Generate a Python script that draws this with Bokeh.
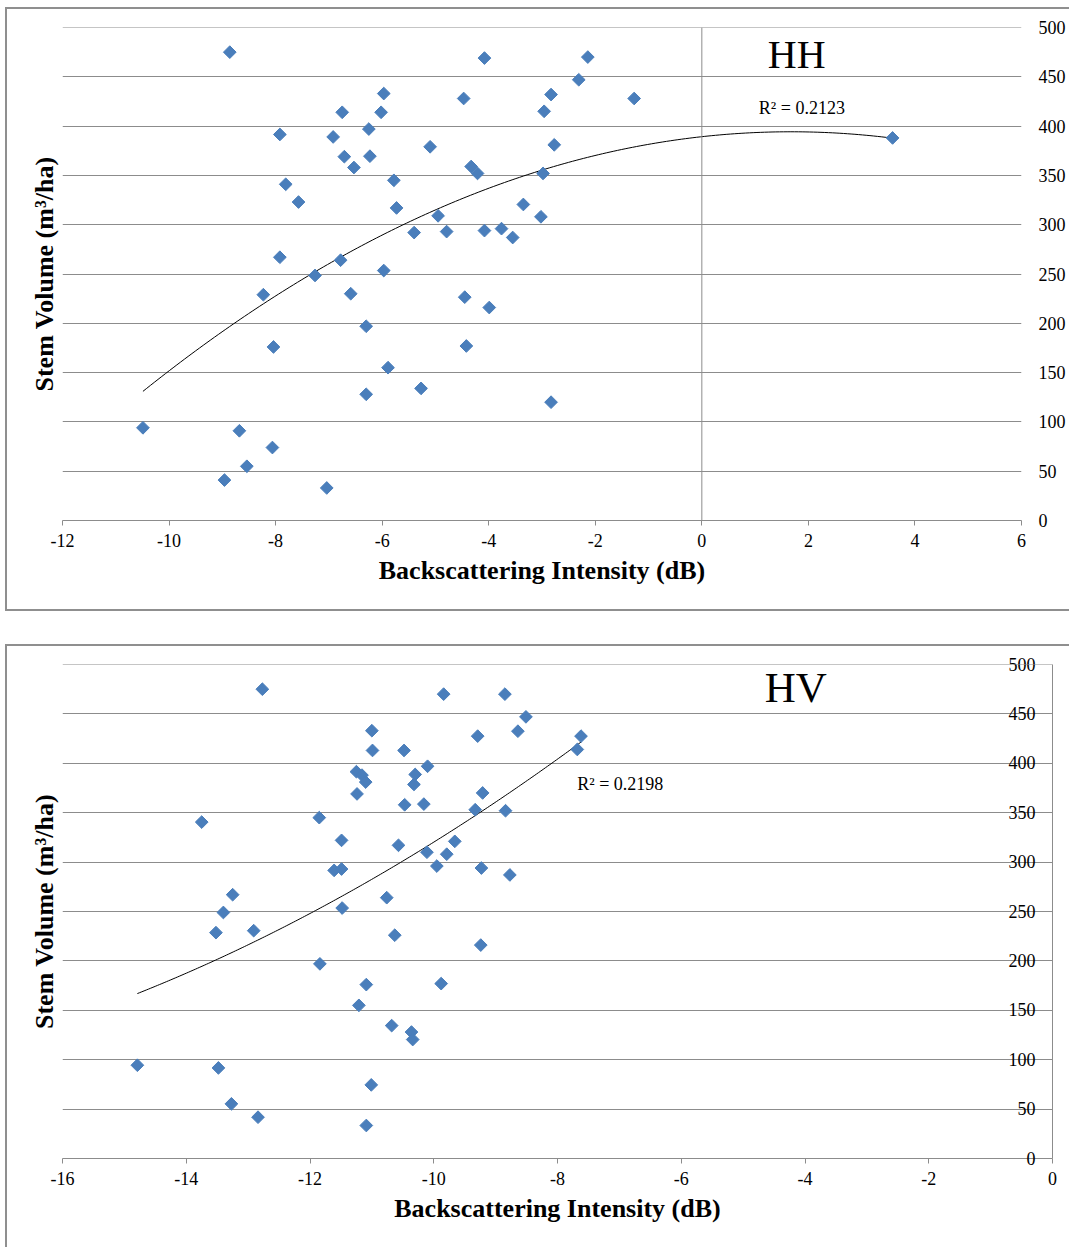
import numpy as np
from bokeh.plotting import figure
from bokeh.models import Range1d, FixedTicker, LinearAxis, Span, Label
from bokeh.layouts import column
from bokeh.embed import file_html
from bokeh.resources import INLINE

# ---------------- data ----------------
hh_x = [-8.86, -4.08, -4.47, -5.97, -6.75, -6.02, -7.92, -6.92, -6.25, -5.10,
        -6.71, -6.23, -6.53, -4.33, -4.21, -5.78, -7.81, -7.57, -5.73, -3.35,
        -4.95, -5.40, -4.79, -4.08, -3.76, -3.55, -7.92, -6.78, -7.26, -5.97,
        -8.23, -6.59, -4.45, -3.99, -2.14, -2.31, -1.27, -2.83, -2.96, -2.77,
        3.58, -2.98, -3.02, -6.30, -8.04, -4.42, -5.89, -5.27, -6.30, -10.49,
        -8.68, -8.06, -8.54, -8.96, -7.04, -2.83]
hh_vol = [475, 469, 428, 433, 414, 414, 391.5, 389, 397, 379,
          369, 369.5, 358, 359, 352, 345, 341, 323, 317, 320.5,
          309, 292, 293, 294, 296, 287, 267, 264, 248.5, 253.5,
          229, 230, 226.5, 216, 470, 447, 428, 432, 415, 381,
          388, 352, 308, 197, 176, 177, 155, 134, 128, 94,
          91, 74, 55, 41, 33, 120]

hv_x = [-12.77, -9.84, -8.85, -8.51, -8.64, -9.29, -11.00, -10.99, -10.48, -10.10,
        -11.25, -11.16, -11.10, -10.30, -10.32, -11.24, -9.21, -10.47, -10.16, -9.33,
        -8.84, -13.75, -11.85, -11.49, -9.66, -10.57, -10.11, -9.79, -9.95, -9.23,
        -8.77, -11.61, -11.49, -13.25, -13.40, -11.48, -10.76, -13.52, -12.91, -10.63,
        -9.24, -7.62, -7.68, -11.84, -11.09, -9.88, -11.21, -10.68, -10.36, -10.34,
        -14.79, -13.48, -11.01, -13.27, -12.84, -11.09]
hv_vol = [475, 470, 470, 447, 432.5, 427.5, 433, 413, 413, 397,
          391.5, 388, 381, 388.7, 378.6, 369, 370, 358, 358.7, 353,
          352, 340.5, 345, 322, 321, 317, 310, 308, 296, 294,
          287, 291.6, 293, 267, 249, 253.5, 264, 228.6, 230.6, 226,
          216, 427.5, 414, 197, 176, 177, 155, 134.5, 128, 120.4,
          94.4, 91.7, 74.5, 55.3, 41.8, 33.4]

vol_ticks = [0, 50, 100, 150, 200, 250, 300, 350, 400, 450, 500]
hh_xticks = [-12, -10, -8, -6, -4, -2, 0, 2, 4, 6]
hv_xticks = [-16, -14, -12, -10, -8, -6, -4, -2, 0]
hh_name = "HH"
hv_name = "HV"
hh_r2 = "R\u00b2 = 0.2123"
hv_r2 = "R\u00b2 = 0.2198"
x_title = "Backscattering Intensity (dB)"
y_title = "Stem Volume (m\u00b3/ha)"

FONT = "Liberation Serif"
GRID = "#8c8c8c"
BLUE = "#4a7ebb"
BCOL = "2px solid #8f8f8f"
FIGSP = "\u2007"  # figure space: same width as a digit, keeps labels right-aligned


def make_panel(xs, ys, x0, x1, xticks, name, name_pos, name_size, r2, r2_pos,
               inside_labels, W, H, fw, fh, bottom_border):
    p = figure(width=W, height=H, frame_width=fw, frame_height=fh,
               output_backend="svg", toolbar_location=None,
               x_range=Range1d(x0, x1), y_range=Range1d(0, 500),
               y_axis_location=None, min_border_left=55, min_border_right=W - 55 - fw,
               min_border_top=18, min_border_bottom=H - 18 - fh)
    p.outline_line_color = None
    p.background_fill_color = "white"
    p.border_fill_color = "white"

    # x axis
    xa = p.xaxis[0]
    xa.ticker = FixedTicker(ticks=xticks)
    xa.major_label_overrides = {t: str(t) for t in xticks}
    xa.axis_line_color = GRID
    xa.major_tick_line_color = GRID
    xa.major_tick_out = 5
    xa.major_tick_in = 0
    xa.minor_tick_line_color = None
    xa.major_label_standoff = 8
    xa.major_label_text_font = FONT
    xa.major_label_text_font_size = "18px"
    xa.major_label_text_color = "black"
    xa.axis_label = x_title
    xa.axis_label_text_font = FONT
    xa.axis_label_text_font_style = "bold"
    xa.axis_label_text_font_size = "26px"
    xa.axis_label_text_color = "black"
    xa.axis_label_standoff = 6

    # left axis carrying only the title
    la = LinearAxis(ticker=FixedTicker(ticks=[]), axis_label=y_title,
                    axis_line_color=None, major_tick_out=0, major_tick_in=0,
                    minor_tick_out=0, minor_tick_in=0,
                    axis_label_standoff=4, axis_label_text_font=FONT,
                    axis_label_text_font_style="bold", axis_label_text_font_size="26px",
                    axis_label_text_color="black")
    p.add_layout(la, "left")

    # grid
    p.xgrid.visible = False
    p.ygrid.ticker = FixedTicker(ticks=vol_ticks)
    p.ygrid.grid_line_color = GRID
    p.ygrid.grid_line_width = 1
    p.add_layout(Span(location=vol_ticks[-1], dimension="width", line_color=GRID, line_width=1))

    if inside_labels:
        # vertical axis sits at x = 0 (right edge) with its labels on the inner side
        width = max(len(str(t)) for t in vol_ticks)
        ra = LinearAxis(ticker=FixedTicker(ticks=vol_ticks), axis_line_color=GRID,
                        major_tick_out=0, major_tick_in=0, minor_tick_out=0, minor_tick_in=0,
                        major_label_standoff=-44,
                        major_label_overrides={t: FIGSP * (width - len(str(t))) + str(t)
                                               for t in vol_ticks},
                        major_label_text_font=FONT,
                        major_label_text_font_size="18px", major_label_text_color="black")
        p.add_layout(ra, "right")
    else:
        p.add_layout(Span(location=0, dimension="height", line_color=GRID, line_width=1))
        ra = LinearAxis(ticker=FixedTicker(ticks=vol_ticks), axis_line_color=None,
                        major_tick_out=0, major_tick_in=0, minor_tick_out=0, minor_tick_in=0,
                        major_label_standoff=17, major_label_text_font=FONT,
                        major_label_text_font_size="18px", major_label_text_color="black")
        p.add_layout(ra, "right")

    # trend line (2nd order polynomial fit of the data)
    coef = np.polyfit(xs, ys, 2)
    tx = np.linspace(min(xs), max(xs), 200)
    p.line(tx, np.polyval(coef, tx), line_color="black", line_width=1)

    # points
    p.scatter(xs, ys, marker="square", size=9, angle=np.pi / 4,
              fill_color=BLUE, line_color=BLUE)

    p.add_layout(Label(x=name_pos[0], y=name_pos[1], text=name, text_align="center",
                       text_baseline="alphabetic", text_font=FONT,
                       text_font_size=name_size, text_color="black"))
    p.add_layout(Label(x=r2_pos[0], y=r2_pos[1], text=r2, text_align="left",
                       text_baseline="alphabetic", text_font=FONT,
                       text_font_size="18px", text_color="black"))

    styles = {"border-left": BCOL, "border-top": BCOL}
    if bottom_border:
        styles["border-bottom"] = BCOL
    p.styles = styles
    return p


p1 = make_panel(hh_x, hh_vol, -12, 6, hh_xticks, hh_name, (1.78, 473), "40px",
                hh_r2, (1.07, 418), False, 1062, 600, 957, 489, True)
p2 = make_panel(hv_x, hv_vol, -16, 0, hv_xticks, hv_name, (-4.15, 477), "43px",
                hv_r2, (-7.68, 379), True, 1062, 601, 988, 492, False)
p1.margin = (7, 0, 0, 5)
p2.margin = (33, 0, 0, 5)

layout = column(p1, p2, spacing=0)
open("out.html", "w").write(file_html(layout, INLINE))
